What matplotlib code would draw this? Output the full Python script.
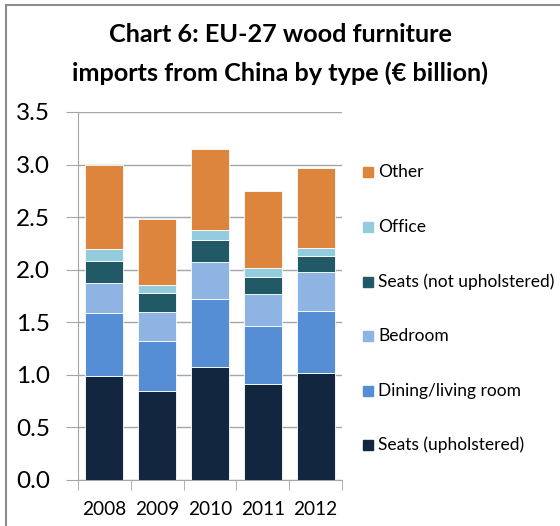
import matplotlib
matplotlib.use("Agg")
import matplotlib.pyplot as plt
import numpy as np
from matplotlib.patches import Rectangle

years = ["2008", "2009", "2010", "2011", "2012"]

# € billion, stacked bottom to top
seats_upholstered = [0.99, 0.85, 1.07, 0.91, 1.02]
dining_living = [0.595, 0.47, 0.65, 0.55, 0.59]
bedroom = [0.285, 0.28, 0.35, 0.31, 0.37]
seats_not_upholstered = [0.21, 0.18, 0.21, 0.16, 0.15]
office = [0.12, 0.075, 0.10, 0.085, 0.075]
other = [0.80, 0.63, 0.77, 0.73, 0.765]

series = [
    ("Seats (upholstered)", seats_upholstered, "#132640"),
    ("Dining/living room", dining_living, "#558ED5"),
    ("Bedroom", bedroom, "#8EB4E3"),
    ("Seats (not upholstered)", seats_not_upholstered, "#215967"),
    ("Office", office, "#93CDDD"),
    ("Other", other, "#DD843D"),
]

plt.rcParams["font.family"] = ["Lato", "DejaVu Sans"]

W, H = 560, 526
fig = plt.figure(figsize=(W / 100, H / 100), dpi=100)
ax = fig.add_axes([78 / W, 1 - 480 / H, 264 / W, 368 / H])

x = np.arange(len(years))
bottom = np.zeros(len(years))
for name, vals, color in series:
    ax.bar(x, vals, 0.72, bottom=bottom, color=color, edgecolor="white",
           linewidth=0.6, zorder=3)
    bottom += np.array(vals)

ax.set_xlim(-0.5, len(years) - 0.5)
ax.set_ylim(0, 3.5)
ticks = np.arange(0, 3.51, 0.5)
ax.set_yticks(ticks)
ax.set_yticklabels([f"{v:.1f}" for v in ticks], fontsize=17.5)
ax.yaxis.grid(True, color="#A6A6A6", linewidth=1, zorder=0)
ax.tick_params(axis="y", length=9, color="#A6A6A6", pad=11)

# year labels centred on bars, tick marks on category boundaries
ax.set_xticks(x)
ax.set_xticklabels(years, fontsize=13.7)
ax.tick_params(axis="x", length=0, pad=15)
ax.set_xticks(np.arange(-0.5, len(years)), minor=True)
ax.tick_params(axis="x", which="minor", length=7, color="#A6A6A6")

for side in ["top", "right"]:
    ax.spines[side].set_visible(False)
for side in ["left", "bottom"]:
    ax.spines[side].set_color("#A6A6A6")

fig.text(0.5, 1 - 35 / H, "Chart 6: EU-27 wood furniture", ha="center",
         va="center", fontsize=18.2, fontweight="bold")
fig.text(0.5, 1 - 73 / H, "imports from China by type (€ billion)",
         ha="center", va="center", fontsize=18.2, fontweight="bold")

# legend, top entry is the top segment
legend_y = [172, 227, 282, 336, 391, 445]
for (name, _, color), ly in zip(reversed(series), legend_y):
    fig.add_artist(Rectangle((363 / W, 1 - (ly + 5) / H), 10 / W, 10 / H,
                             transform=fig.transFigure, color=color))
    fig.text(378 / W, 1 - ly / H, name, va="center", fontsize=12.5)

# frame around the chart, running off the right and bottom edges
fig.add_artist(Rectangle((6 / W, -0.1), 1.2, 1 + 0.1 - 5 / H,
                         transform=fig.transFigure, fill=False,
                         edgecolor="#8C8C8C", linewidth=1.5))

fig.savefig("out.png", dpi=100)
